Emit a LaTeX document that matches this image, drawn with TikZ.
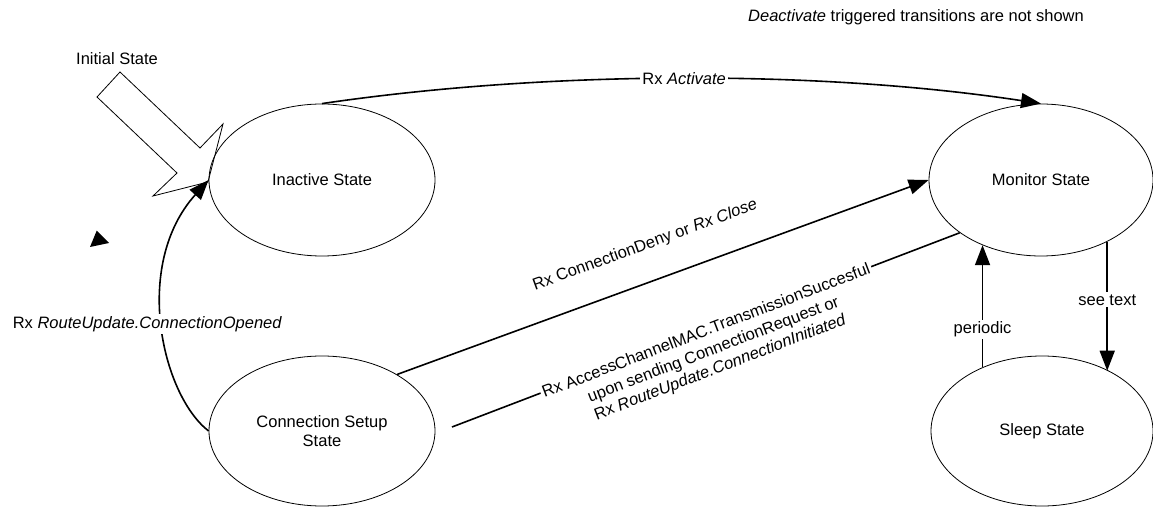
\documentclass[tikz,border=0pt]{standalone}
\usepackage{fontspec}
\setmainfont{Liberation Sans}
\usetikzlibrary{shapes.geometric,arrows.meta,calc}
\begin{document}
\begin{tikzpicture}[x=1pt,y=1pt,
  every node/.style={font=\fontsize{16.5}{19}\selectfont},
  state/.style={ellipse, draw, line width=0.8pt, minimum width=226pt,
    minimum height=152pt, inner sep=0pt, align=center},
  trans/.style={line width=1.6pt},
  arr/.style={trans, -{Triangle[length=20pt,width=15pt]}},
  lbl/.style={fill=white, inner sep=2pt}
]
\useasboundingbox (0,0) rectangle (1153,506);

% hollow block arrow marking the initial state
\draw[line width=0.8pt, fill=white] (97,409) -- (120,434) -- (200,358)
  -- (223,382) -- (208,324) -- (153,310) -- (177,333) -- cycle;
\node (initlbl) at (117,447) {Initial State};

% stray arrow head
\fill (90,259) -- (109,263) -- (96.7,275.3) -- cycle;

% states
\node[state] (inact) at (322,326) {Inactive State};
\node[state, minimum width=224pt] (mon) at (1041,326) {Monitor State};
\node[state, minimum height=150pt] (conn) at (322,75) {Connection Setup\\State};
\node[state, minimum width=222pt, minimum height=150pt] (slp) at (1042,75) {Sleep State};

\node (note) at (916,489) {\textit{Deactivate} triggered transitions are not shown};

% transitions
\draw[arr] (inact.north) .. controls (550,436) and (820,436) ..
  node[lbl, pos=0.5] (actLbl) {Rx \textit{Activate}} (mon.north);

\draw[arr] (conn.west) .. controls (162,111) and (132,241) ..
  node[lbl, pos=0.5, xshift=-15pt] (openLbl) {Rx \textit{RouteUpdate.ConnectionOpened}} (inact.west);

\draw[arr] (conn.37.7) --
  node[pos=0.49, sloped, above=24pt] (denyLbl) {Rx ConnectionDeny or \textit{Rx Close}} (mon.west);

\coordinate (accStart) at (452,79);
\draw[trans] (accStart) --
  node[lbl, pos=0.5, sloped] (accLbl) {Rx AccessChannelMAC.TransmissionSuccesful} (mon.-147.8);
\node[anchor=north, rotate=21.07, inner xsep=0pt, inner ysep=5pt, align=center]
  (accLbl2) at (accLbl.south)
  {upon sending ConnectionRequest or\\Rx \textit{RouteUpdate.ConnectionInitiated}};

\draw[arr] (mon.-43) -- node[lbl, pos=0.45] (seeLbl) {see text} (mon.-43 |- slp.42.7);
\draw[arr] (slp.133.6) -- node[lbl, pos=0.31] (perLbl) {periodic} (slp.133.6 |- mon.-132.4);
\end{tikzpicture}
\end{document}
